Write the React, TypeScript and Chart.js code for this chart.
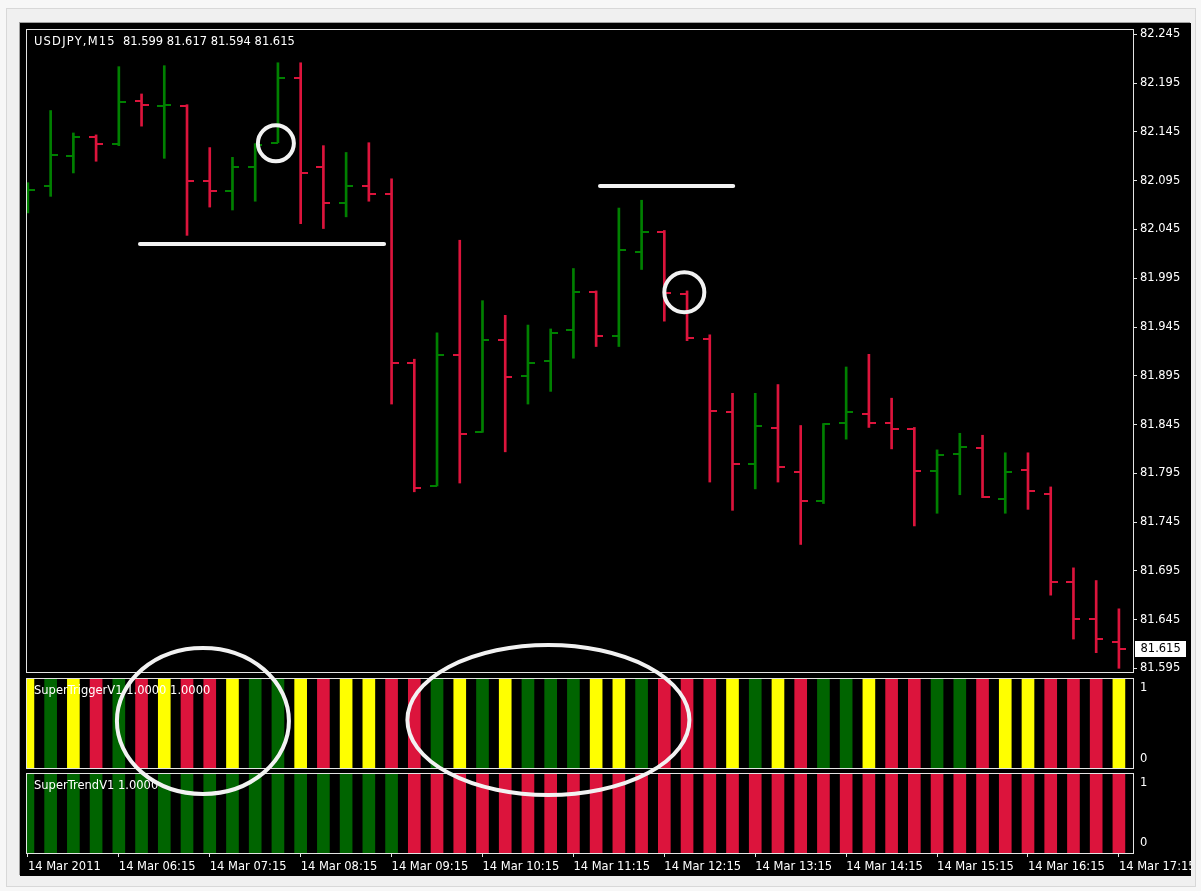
import React, { useEffect, useRef } from "react";
import { Chart, registerables } from "chart.js";

Chart.register(...registerables);

// ---------------- data ----------------
const SYMBOL = "USDJPY,M15";
const HEADER_QUOTE = ["81.599", "81.617", "81.594", "81.615"];
const TRIGGER_TITLE = "SuperTriggerV1 1.0000 1.0000";
const TREND_TITLE = "SuperTrendV1 1.0000";

const TIME_LABELS = [
  "14 Mar 2011", "14 Mar 06:15", "14 Mar 07:15", "14 Mar 08:15", "14 Mar 09:15",
  "14 Mar 10:15", "14 Mar 11:15", "14 Mar 12:15", "14 Mar 13:15", "14 Mar 14:15",
  "14 Mar 15:15", "14 Mar 16:15", "14 Mar 17:15",
];
const TIME_LABEL_BARS = [0, 4, 8, 12, 16, 20, 24, 28, 32, 36, 40, 44, 48];

const PRICE_TICKS = [
  82.245, 82.195, 82.145, 82.095, 82.045, 81.995, 81.945,
  81.895, 81.845, 81.795, 81.745, 81.695, 81.645, 81.595,
];

const OPEN = [
  82.075, 82.090, 82.120, 82.140, 82.133, 82.177, 82.172, 82.172, 82.095, 82.084,
  82.109, 82.134, 82.200, 82.109, 82.072, 82.090, 82.081, 81.908, 81.782, 81.916,
  81.837, 81.932, 81.895, 81.910, 81.942, 81.981, 81.936, 82.022, 82.042, 81.979,
  81.933, 81.858, 81.805, 81.841, 81.796, 81.767, 81.847, 81.856, 81.847, 81.840,
  81.797, 81.815, 81.821, 81.769, 81.798, 81.774, 81.683, 81.646, 81.622,
];
const HIGH = [
  82.093, 82.167, 82.144, 82.142, 82.212, 82.184, 82.213, 82.173, 82.129, 82.119,
  82.133, 82.216, 82.216, 82.131, 82.124, 82.134, 82.097, 81.912, 81.939, 82.034,
  81.972, 81.957, 81.947, 81.943, 82.005, 81.982, 82.067, 82.075, 82.044, 81.982,
  81.937, 81.877, 81.877, 81.886, 81.844, 81.846, 81.904, 81.917, 81.872, 81.842,
  81.819, 81.836, 81.834, 81.816, 81.816, 81.781, 81.698, 81.685, 81.656,
];
const LOW = [
  82.062, 82.079, 82.103, 82.115, 82.131, 82.151, 82.118, 82.039, 82.068, 82.065,
  82.074, 82.134, 82.051, 82.046, 82.058, 82.074, 81.866, 81.776, 81.782, 81.785,
  81.837, 81.817, 81.866, 81.879, 81.913, 81.925, 81.925, 82.004, 81.951, 81.931,
  81.786, 81.757, 81.779, 81.786, 81.722, 81.764, 81.830, 81.842, 81.820, 81.741,
  81.754, 81.773, 81.770, 81.754, 81.758, 81.670, 81.625, 81.611, 81.595,
];
const CLOSE = [
  82.086, 82.121, 82.140, 82.133, 82.176, 82.173, 82.173, 82.095, 82.084, 82.109,
  82.132, 82.200, 82.103, 82.072, 82.090, 82.081, 81.908, 81.780, 81.916, 81.835,
  81.932, 81.894, 81.908, 81.939, 81.981, 81.936, 82.024, 82.042, 81.980, 81.934,
  81.859, 81.805, 81.843, 81.801, 81.767, 81.846, 81.858, 81.847, 81.840, 81.797,
  81.814, 81.822, 81.771, 81.796, 81.777, 81.683, 81.646, 81.625, 81.615,
];

// Y = yellow, G = green, R = red
const TRIGGER_STATE = [
  "Y", "G", "Y", "R", "G", "R", "Y", "R", "R", "Y",
  "G", "G", "Y", "R", "Y", "Y", "R", "R", "G", "Y",
  "G", "Y", "G", "G", "G", "Y", "Y", "G", "R", "R",
  "R", "Y", "G", "Y", "R", "G", "G", "Y", "R", "R",
  "G", "G", "R", "Y", "Y", "R", "R", "R", "Y",
];
const TRIGGER_VALUE = [
  1, 1, 1, 1, 1, 1, 1, 1, 1, 1, 1, 1, 1, 1, 1, 1, 1, 1, 1, 1, 1, 1, 1, 1, 1,
  1, 1, 1, 1, 1, 1, 1, 1, 1, 1, 1, 1, 1, 1, 1, 1, 1, 1, 1, 1, 1, 1, 1, 1,
];
const TREND_STATE = [
  "G", "G", "G", "G", "G", "G", "G", "G", "G", "G",
  "G", "G", "G", "G", "G", "G", "G", "R", "R", "R",
  "R", "R", "R", "R", "R", "R", "R", "R", "R", "R",
  "R", "R", "R", "R", "R", "R", "R", "R", "R", "R",
  "R", "R", "R", "R", "R", "R", "R", "R", "R",
];
const TREND_VALUE = [
  1, 1, 1, 1, 1, 1, 1, 1, 1, 1, 1, 1, 1, 1, 1, 1, 1, 1, 1, 1, 1, 1, 1, 1, 1,
  1, 1, 1, 1, 1, 1, 1, 1, 1, 1, 1, 1, 1, 1, 1, 1, 1, 1, 1, 1, 1, 1, 1, 1,
];

// hand-drawn annotations, anchored in data units (bar index / price / pane value)
const LEVEL_LINES = [
  { fromBar: 4.93, toBar: 15.67, price: 82.0301 },
  { fromBar: 25.17, toBar: 31.03, price: 82.0896 },
];
const CIRCLES = [
  { bar: 10.91, price: 82.1334, r: 18 },
  { bar: 28.88, price: 81.9806, r: 20 },
];
const ELLIPSES = [
  { bar: 7.70, value: 0.528, rx: 86, ry: 73 },
  { bar: 22.90, value: 0.539, rx: 141, ry: 75 },
];

// ---------------- view / style ----------------
const X_MIN = -0.04;
const X_MAX = 48.62;
const Y_MIN = 81.5912;
const Y_MAX = 82.2496;

const FONT = '"DejaVu Sans", "Noto Sans", sans-serif';
const FONT_SIZE = 11.5;
const COL = {
  up: "#008000",
  down: "#dc143c",
  Y: "#ffff00",
  G: "#006400",
  R: "#dc143c",
  frame: "#e4e4e4",
  text: "#ffffff",
  annot: "#f2f2f2",
};

const W = 1171;
const MAIN_H = 652;
const TRIG_TOP = 652;
const TRIG_H = 95;
const TREND_TOP = 747;
const TREND_H = 106;
const AXIS_W = 58;

function tickImage(color: string, side: "left" | "right") {
  const c = document.createElement("canvas");
  c.width = 14;
  c.height = 2;
  const g = c.getContext("2d")!;
  g.fillStyle = color;
  if (side === "left") g.fillRect(0, 0, 7, 2);
  else g.fillRect(7, 0, 7, 2);
  return c;
}

const framePlugin = {
  id: "mtFrame",
  afterDraw(chart: any) {
    const { ctx, chartArea: a } = chart;
    ctx.save();
    ctx.strokeStyle = COL.frame;
    ctx.lineWidth = 1;
    ctx.strokeRect(a.left - 0.5, a.top - 0.5, a.right - a.left + 1, a.bottom - a.top + 1);
    ctx.restore();
  },
};

function titlePlugin(text: string) {
  return {
    id: "mtTitle",
    afterDatasetsDraw(chart: any) {
      const { ctx, chartArea: a } = chart;
      ctx.save();
      ctx.font = `${FONT_SIZE}px ${FONT}`;
      ctx.fillStyle = COL.text;
      ctx.textBaseline = "middle";
      ctx.textAlign = "left";
      ctx.fillText(text, a.left + 7, a.top + 12);
      ctx.restore();
    },
  };
}

const headerPlugin = {
  id: "mtHeader",
  afterDatasetsDraw(chart: any) {
    const { ctx, chartArea: a } = chart;
    ctx.save();
    ctx.font = `${FONT_SIZE}px ${FONT}`;
    ctx.fillStyle = COL.text;
    ctx.textBaseline = "middle";
    ctx.textAlign = "left";
    const y = a.top + 12;
    (ctx as any).letterSpacing = "1.2px";
    ctx.fillText(SYMBOL, a.left + 7, y);
    const w = ctx.measureText(SYMBOL).width;
    (ctx as any).letterSpacing = "0px";
    ctx.fillText(HEADER_QUOTE.join(" "), a.left + 7 + w + 7, y);
    ctx.restore();
  },
};

const priceBoxPlugin = {
  id: "mtPriceBox",
  afterDraw(chart: any) {
    const { ctx, chartArea: a } = chart;
    const last = CLOSE[CLOSE.length - 1];
    const y = chart.scales.y.getPixelForValue(last);
    ctx.save();
    ctx.fillStyle = "#ffffff";
    ctx.fillRect(a.right + 2, Math.round(y) - 8, 51, 16);
    ctx.fillStyle = "#000000";
    ctx.font = `${FONT_SIZE}px ${FONT}`;
    ctx.textBaseline = "middle";
    ctx.textAlign = "left";
    ctx.fillText(last.toFixed(3), a.right + 7.5, y);
    ctx.restore();
  },
};

const fixVertical = (s: any) => {
  s.width = AXIS_W;
  s.paddingTop = 0;
  s.paddingBottom = 0;
};

function xView(display: boolean) {
  return { type: "linear", min: X_MIN, max: X_MAX, offset: false, display, grid: { offset: false } };
}

function paneLabelAxis(min: number, max: number) {
  return {
    type: "linear",
    position: "right",
    min,
    max,
    afterBuildTicks: (s: any) => {
      s.ticks = [{ value: 1 }, { value: 0 }];
    },
    afterFit: fixVertical,
    grid: { drawOnChartArea: false, drawTicks: true, tickLength: 4, tickColor: "rgba(0,0,0,0)" },
    border: { display: false },
    ticks: {
      color: COL.text,
      padding: 3,
      font: { family: FONT, size: FONT_SIZE },
      callback: (v: any) => String(v),
    },
  };
}

export default function App() {
  const mainRef = useRef<HTMLCanvasElement>(null);
  const trigRef = useRef<HTMLCanvasElement>(null);
  const trendRef = useRef<HTMLCanvasElement>(null);
  const overRef = useRef<HTMLCanvasElement>(null);

  useEffect(() => {
    const up = OPEN.map((o, i) => CLOSE[i] >= o);
    const idx = OPEN.map((_, i) => i);
    const upIdx = idx.filter((i) => up[i]);
    const dnIdx = idx.filter((i) => !up[i]);

    const tickDs = (arr: number[], list: number[], img: HTMLCanvasElement) => ({
      type: "scatter",
      data: list.map((i) => ({ x: i, y: arr[i] })),
      pointStyle: img,
      pointRadius: 7,
      pointHoverRadius: 7,
      pointBorderWidth: 0,
      clip: 0,
      order: 1,
    });

    const common = {
      responsive: false,
      animation: false,
      devicePixelRatio: 1,
      events: [],
      plugins: { legend: { display: false }, tooltip: { enabled: false } },
    };

    const main = new Chart(mainRef.current!, {
      type: "bar",
      data: {
        datasets: [
          {
            type: "bar",
            data: idx.map((i) => ({ x: i, y: [LOW[i], HIGH[i]] })),
            backgroundColor: idx.map((i) => (up[i] ? COL.up : COL.down)),
            barThickness: 2,
            borderWidth: 0,
            clip: 0,
            order: 2,
          },
          tickDs(OPEN, upIdx, tickImage(COL.up, "left")),
          tickDs(OPEN, dnIdx, tickImage(COL.down, "left")),
          tickDs(CLOSE, upIdx, tickImage(COL.up, "right")),
          tickDs(CLOSE, dnIdx, tickImage(COL.down, "right")),
        ] as any,
      },
      options: {
        ...common,
        layout: { autoPadding: false, padding: { left: 7, top: 7, bottom: 3, right: 0 } },
        scales: {
          x: xView(false),
          y: {
            type: "linear",
            position: "right",
            min: Y_MIN,
            max: Y_MAX,
            afterBuildTicks: (s: any) => {
              s.ticks = PRICE_TICKS.map((v) => ({ value: v }));
            },
            afterFit: fixVertical,
            grid: { drawOnChartArea: false, drawTicks: true, tickLength: 4, tickColor: COL.frame },
            border: { display: false },
            ticks: {
              autoSkip: false,
              color: COL.text,
              padding: 3,
              font: { family: FONT, size: FONT_SIZE },
              callback: (v: any) => Number(v).toFixed(3),
            },
          },
        },
      } as any,
      plugins: [framePlugin, headerPlugin, priceBoxPlugin],
    });

    const trig = new Chart(trigRef.current!, {
      type: "bar",
      data: {
        datasets: [
          {
            data: idx.map((i) => ({ x: i, y: TRIGGER_VALUE[i] })),
            backgroundColor: TRIGGER_STATE.map((s) => (COL as any)[s]),
            barThickness: 12,
            borderWidth: 0,
            clip: 0,
            yAxisID: "y",
          },
        ] as any,
      },
      options: {
        ...common,
        layout: { autoPadding: false, padding: { left: 7, top: 4, bottom: 2, right: 0 } },
        scales: {
          x: xView(false),
          y: { type: "linear", min: 0, max: 1, display: false },
          yl: paneLabelAxis(-0.1268, 1.1268),
        },
      } as any,
      plugins: [framePlugin, titlePlugin(TRIGGER_TITLE)],
    });

    const trend = new Chart(trendRef.current!, {
      type: "bar",
      data: {
        datasets: [
          {
            data: idx.map((i) => ({ x: i, y: TREND_VALUE[i] })),
            backgroundColor: TREND_STATE.map((s) => (COL as any)[s]),
            barThickness: 12,
            borderWidth: 0,
            clip: 0,
            yAxisID: "y",
          },
        ] as any,
      },
      options: {
        ...common,
        layout: { autoPadding: false, padding: { left: 7, top: 4, bottom: 0, right: 0 } },
        scales: {
          x: {
            ...xView(true),
            position: "bottom",
            afterBuildTicks: (s: any) => {
              s.ticks = TIME_LABEL_BARS.map((v) => ({ value: v }));
            },
            afterFit: (s: any) => {
              s.height = 23;
              s.paddingLeft = 0;
              s.paddingRight = 0;
            },
            grid: { offset: false, drawOnChartArea: false, drawTicks: true, tickLength: 4, tickColor: COL.frame },
            border: { display: false },
            ticks: {
              autoSkip: false,
              maxRotation: 0,
              minRotation: 0,
              align: "start",
              padding: 3,
              color: COL.text,
              font: { family: FONT, size: FONT_SIZE },
              callback: (_v: any, i: number) => TIME_LABELS[i],
            },
          },
          y: { type: "linear", min: 0, max: 1, display: false },
          yl: paneLabelAxis(-0.16, 1.1436),
        },
      } as any,
      plugins: [framePlugin, titlePlugin(TREND_TITLE)],
    });

    // annotation overlay, positioned through the charts' scales
    const ov = overRef.current!;
    const g = ov.getContext("2d")!;
    g.clearRect(0, 0, ov.width, ov.height);
    g.strokeStyle = COL.annot;
    g.lineWidth = 4;
    g.lineCap = "round";
    const mx = main.scales.x;
    const my = main.scales.y;
    for (const l of LEVEL_LINES) {
      const y = my.getPixelForValue(l.price);
      g.beginPath();
      g.moveTo(mx.getPixelForValue(l.fromBar), y);
      g.lineTo(mx.getPixelForValue(l.toBar), y);
      g.stroke();
    }
    for (const c of CIRCLES) {
      g.beginPath();
      g.arc(mx.getPixelForValue(c.bar), my.getPixelForValue(c.price), c.r, 0, Math.PI * 2);
      g.stroke();
    }
    for (const e of ELLIPSES) {
      const cx = trig.scales.x.getPixelForValue(e.bar);
      const cy = trig.scales.y.getPixelForValue(e.value) + TRIG_TOP;
      g.beginPath();
      g.ellipse(cx, cy, e.rx, e.ry, 0, 0, Math.PI * 2);
      g.stroke();
    }

    return () => {
      main.destroy();
      trig.destroy();
      trend.destroy();
    };
  }, []);

  const abs = (top: number, h: number): React.CSSProperties => ({
    position: "absolute",
    left: 0,
    top,
    width: W,
    height: h,
    display: "block",
  });

  return (
    <div
      style={{
        position: "absolute",
        left: 0,
        top: 0,
        width: 1201,
        height: 891,
        background: "#f7f7f7",
        overflow: "hidden",
      }}
    >
      <div
        style={{
          position: "absolute",
          left: 6,
          top: 8,
          width: 1188,
          height: 877,
          background: "#f0f0f0",
          border: "1px solid #d8d8d8",
        }}
      />
      <div
        style={{
          position: "absolute",
          left: 20,
          top: 23,
          width: W,
          height: 853,
          background: "#000000",
          boxShadow: "-1px -1px 0 #a0a0a0",
        }}
      >
        <canvas ref={mainRef} width={W} height={MAIN_H} style={abs(0, MAIN_H)} />
        <canvas ref={trigRef} width={W} height={TRIG_H} style={abs(TRIG_TOP, TRIG_H)} />
        <canvas ref={trendRef} width={W} height={TREND_H} style={abs(TREND_TOP, TREND_H)} />
        <canvas
          ref={overRef}
          width={W}
          height={853}
          style={{ ...abs(0, 853), pointerEvents: "none" }}
        />
      </div>
    </div>
  );
}
